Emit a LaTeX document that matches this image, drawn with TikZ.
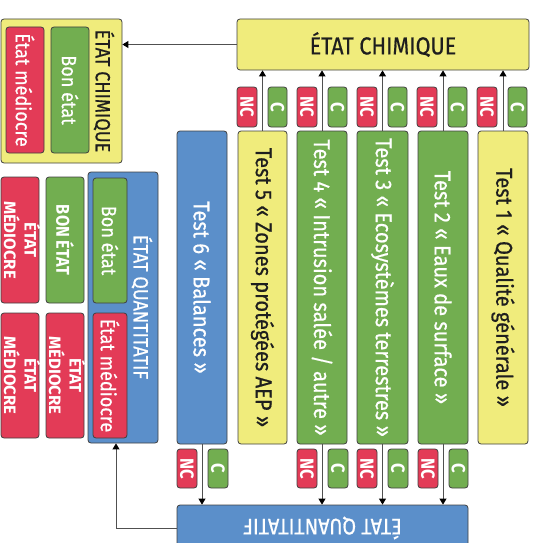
\documentclass[tikz,border=0pt]{standalone}
\usepackage{fontspec}
\setmainfont{Fira Sans}[FakeStretch=0.88, UprightFeatures={FakeBold=0.6}]
\usetikzlibrary{arrows.meta}
\definecolor{yelc}{HTML}{F0EC7C}
\definecolor{grnc}{HTML}{72AE50}
\definecolor{redc}{HTML}{E33B57}
\definecolor{bluc}{HTML}{5B8FCA}
\definecolor{bordc}{HTML}{404040}
\definecolor{linec}{HTML}{505050}
\definecolor{txtc}{HTML}{1E1E1E}
\tikzset{
  box/.style={draw=bordc, line width=0.8pt, rounded corners=3pt, inner sep=0pt, align=center},
  yel/.style={box, fill=yelc, text=txtc},
  grn/.style={box, fill=grnc, text=white},
  red/.style={box, fill=redc, text=white},
  blu/.style={box, fill=bluc, text=white},
  ftest/.style={font=\fontsize{22.8}{25}\selectfont},
  fbig/.style={font=\fontsize{24.5}{27}\selectfont},
  fquant/.style={font=\fontsize{22.5}{25}\selectfont},
  fmid/.style={font=\fontsize{20.5}{22}\selectfont},
  fsmall/.style={font=\bfseries\fontsize{16.5}{15}\selectfont},
  fbon/.style={font=\bfseries\fontsize{18.5}{20}\selectfont},
  fnc/.style={font=\bfseries\fontsize{19}{21}\selectfont},
  arr/.style={draw=linec, line width=0.9pt, -{Triangle[length=6pt,width=7pt,color=black]}},
}
\newcommand\mybox[7]{\node[#1, minimum width={(#5-#3)*1pt}, minimum height={(#6-#4)*1pt}] (#2) at ({(#3+#5)/2},{(#4+#6)/2}) {#7};}
\newcommand\vt[1]{\rotatebox{-90}{#1}}
\newcommand\vtwo[2]{\makebox[0pt]{\rotatebox{-90}{\scalebox{1.15}[1]{\begin{tabular}{@{}c@{}}#1\\#2\end{tabular}}}}}
\begin{document}
\begin{tikzpicture}[x=1pt,y=-1pt]
\useasboundingbox (0,0) rectangle (539,543);
\begin{scope}
\clip (0,0) rectangle (539,543);
% top chemical state
\mybox{yel,fbig}{chem}{237}{19}{529}{70}{ÉTAT CHIMIQUE}
% test columns
\mybox{blu,ftest}{t6}{177}{131}{227}{444}{\vt{Test 6 « Balances »}}
\mybox{yel,ftest}{t5}{238}{131}{287}{444}{\vt{Test 5 « Zones protégées AEP »}}
\mybox{grn,ftest}{t4}{297}{131}{347}{444}{\vt{Test 4 « Intrusion salée / autre »}}
\mybox{grn,ftest}{t3}{357}{131}{408}{444}{\vt{Test 3 « Ecosystèmes terrestres »}}
\mybox{grn,ftest}{t2}{418}{131}{468}{444}{\vt{Test 2 « Eaux de surface »}}
\mybox{yel,ftest}{t1}{478}{131}{528}{444}{\vt{Test 1 « Qualité générale »}}
% top NC / C
\mybox{red,fnc}{nc5}{237}{87}{257}{127}{\vt{NC}}
\mybox{grn,fnc}{c5}{268}{87}{287}{127}{\vt{C}}
\mybox{red,fnc}{nc4}{297}{87}{317}{127}{\vt{NC}}
\mybox{grn,fnc}{c4}{328}{87}{347}{127}{\vt{C}}
\mybox{red,fnc}{nc3}{357}{87}{377}{127}{\vt{NC}}
\mybox{grn,fnc}{c3}{388}{87}{407}{127}{\vt{C}}
\mybox{red,fnc}{nc2}{417}{87}{437}{127}{\vt{NC}}
\mybox{grn,fnc}{c2}{448}{87}{467}{127}{\vt{C}}
\mybox{red,fnc}{nc1}{477}{87}{497}{127}{\vt{NC}}
\mybox{grn,fnc}{c1}{508}{87}{527}{127}{\vt{C}}
% bottom NC / C
\mybox{red,fnc}{bnc6}{177}{449}{197}{488}{\vt{NC}}
\mybox{grn,fnc}{bc6}{208}{449}{228}{488}{\vt{C}}
\mybox{red,fnc}{bnc4}{297}{449}{317}{488}{\vt{NC}}
\mybox{grn,fnc}{bc4}{328}{449}{348}{488}{\vt{C}}
\mybox{red,fnc}{bnc3}{357}{449}{377}{488}{\vt{NC}}
\mybox{grn,fnc}{bc3}{388}{449}{408}{488}{\vt{C}}
\mybox{red,fnc}{bnc2}{418}{449}{438}{488}{\vt{NC}}
\mybox{grn,fnc}{bc2}{449}{449}{468}{488}{\vt{C}}
% bottom quantitative state
\mybox{blu,fquant}{quant}{177}{505}{468}{551}{\rotatebox{180}{ÉTAT QUANTITATIF}}
% left chemical result box
\mybox{yel,fmid}{lchem}{1}{19}{122}{163}{}
\node[fmid, text=txtc, inner sep=0pt] (lchemt) at (104,91) {\vt{ÉTAT CHIMIQUE}};
\mybox{red,fmid}{lcm}{6}{27}{44}{153}{\vt{État médiocre}}
\mybox{grn,fmid}{lcb}{51}{27}{89}{153}{\vt{Bon état}}
% left quantitative result box
\mybox{blu,fmid}{lquant}{88}{172}{158}{443}{}
\node[fmid, text=white, inner sep=0pt] (lquantt) at (142,307) {\vt{ÉTAT QUANTITATIF}};
\mybox{grn,fmid}{lqb}{93}{178}{127}{303}{\vt{Bon état}}
\mybox{red,fmid}{lqm}{93}{313}{127}{438}{\vt{État médiocre}}
% far-left combined results
\mybox{red,fsmall}{r1}{1}{177}{39}{303}{\vtwo{ÉTAT}{MÉDIOCRE}}
\mybox{grn,fbon}{g1}{46}{177}{84}{303}{\vt{BON ÉTAT}}
\mybox{red,fsmall}{r2}{1}{313}{39}{438}{\vtwo{ÉTAT}{MÉDIOCRE}}
\mybox{red,fsmall}{r3}{46}{313}{84}{438}{\vtwo{ÉTAT}{MÉDIOCRE}}
% connectors up to chemical state
\foreach \t in {t5,t4,t3,t2,t1}{
  \draw[arr] (\t.north) -- (\t.north |- chem.south);
}
% connectors down to quantitative state
\foreach \t in {t6,t4,t3,t2}{
  \draw[arr] (\t.south) -- (\t.south |- quant.north);
}
% result arrows
\draw[arr] (chem.west) -- (lchem.east |- chem.west);
\draw[arr] (quant.west) -| ([xshift=-7pt]lquant.south);
\end{scope}
\end{tikzpicture}
\end{document}
